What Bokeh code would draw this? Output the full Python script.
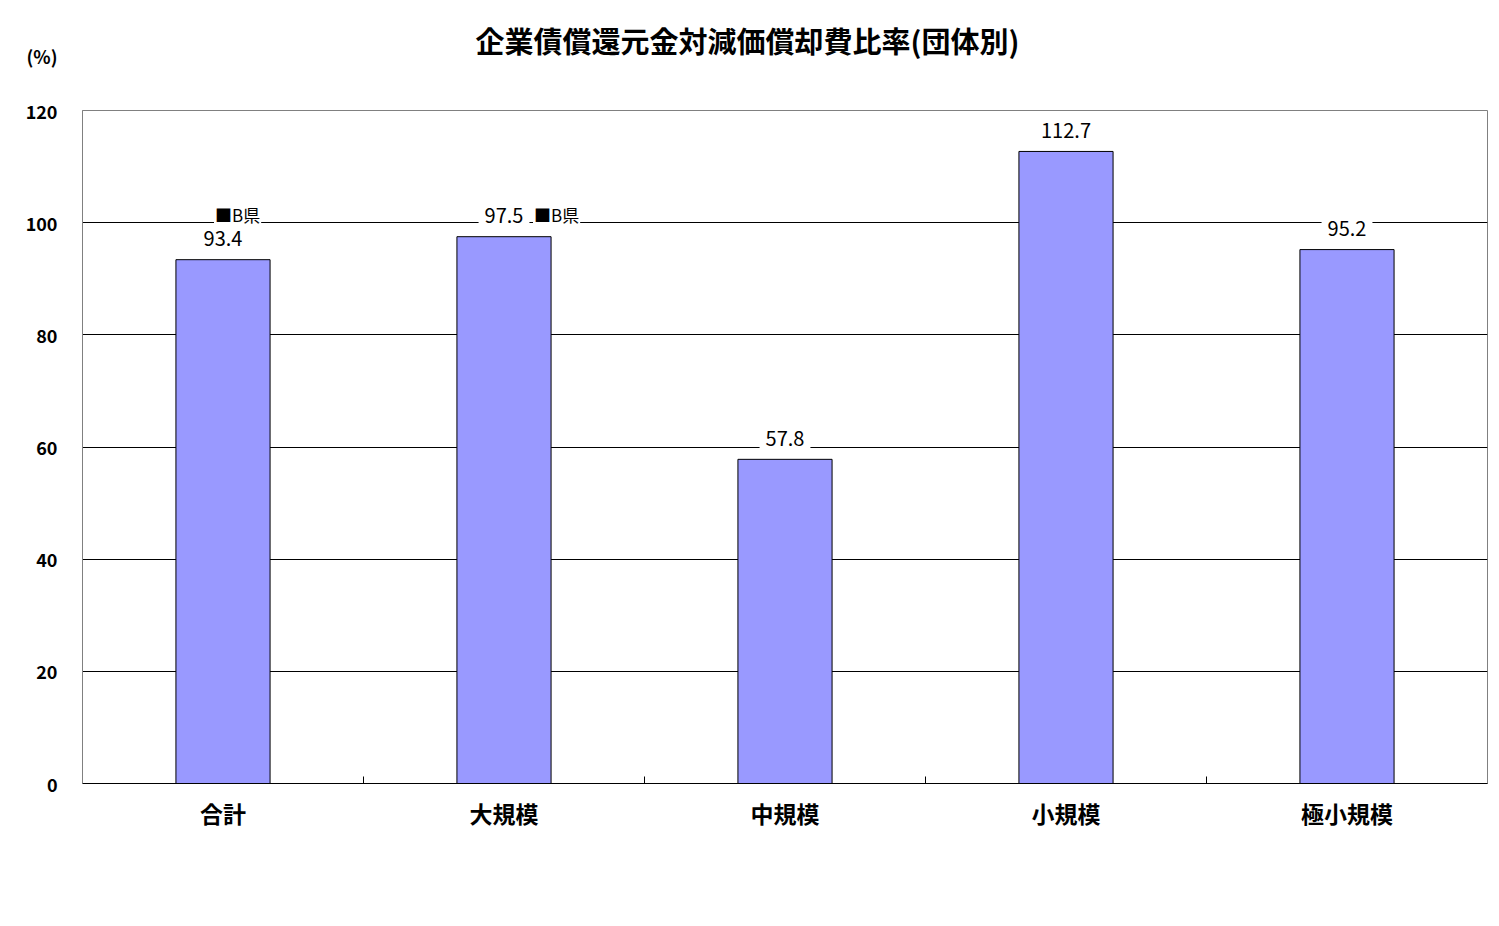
from bokeh.plotting import figure
from bokeh.models import FixedTicker, ColumnDataSource
from bokeh.core.properties import value
from bokeh.embed import file_html
from bokeh.resources import INLINE
import numpy as np

title_text = "企業債償還元金対減価償却費比率(団体別)"
unit_text = "(%)"
categories = ["合計", "大規模", "中規模", "小規模", "極小規模"]
ratios = [93.4, 97.5, 57.8, 112.7, 95.2]
value_labels = ["93.4", "97.5", "57.8", "112.7", "95.2"]
b_marker_cats = ["合計", "大規模"]
b_marker_text = "■B県"
y_ticks = [0, 20, 40, 60, 80, 100, 120]

JP = "Noto Sans CJK JP"
H = 910

n = len(categories)
xc = np.arange(n) + 0.5

p = figure(width=1490, height=H, x_range=(0, n), y_range=(0, 120),
           output_backend="svg", toolbar_location=None,
           min_border_left=82, min_border_right=3, min_border_top=110, min_border_bottom=127)
p.background_fill_color = "white"
p.border_fill_color = "white"
p.outline_line_color = "#808080"
p.outline_line_width = 1

# title (second blank line lifts it away from the frame)
p.title.text = title_text + "\n "
p.title.align = "left"
p.title.offset = 393
p.title.standoff = 16
p.title.text_font = JP
p.title.text_font_size = "29px"
p.title.text_font_style = "bold"
p.title.text_color = "black"

src = ColumnDataSource(dict(x=xc, top=ratios, lab=value_labels))
p.vbar(x="x", top="top", width=0.335, bottom=0, source=src,
       fill_color="#9999FF", line_color="black", line_width=1)

p.text(x="x", y="top", text="lab", source=src, y_offset=-21,
       text_align="center", text_baseline="middle", text_font=value(JP),
       text_font_size="20px", text_color="black",
       background_fill_color="white", padding=6)

bidx = [categories.index(c) for c in b_marker_cats]
bsrc = ColumnDataSource(dict(x=xc[bidx], y=[100] * len(bidx), t=[b_marker_text] * len(bidx),
                             xo=[-9, 29]))
p.text(x="x", y="y", text="t", source=bsrc, x_offset="xo", y_offset=-8,
       text_align="left", text_baseline="middle", text_font=value(JP),
       text_font_size="17px", text_color="black",
       background_fill_color="white", padding=1)

# x axis
p.xaxis.ticker = FixedTicker(ticks=list(xc), minor_ticks=list(np.arange(1, n)))
p.xaxis.major_label_overrides = {float(x): c for x, c in zip(xc, categories)}
p.xaxis.major_tick_line_color = None
p.xaxis.major_tick_in = 0
p.xaxis.major_tick_out = 0
p.xaxis.minor_tick_in = 7
p.xaxis.minor_tick_out = 0
p.xaxis.minor_tick_line_color = "black"
p.xaxis.axis_line_color = "black"
p.xaxis.major_label_text_font = JP
p.xaxis.major_label_text_font_size = "23px"
p.xaxis.major_label_text_font_style = "bold"
p.xaxis.major_label_text_color = "black"
p.xaxis.major_label_standoff = 12
p.xgrid.grid_line_color = None

# y axis; the unit "(%)" sits two lines above the top tick label
p.yaxis.ticker = FixedTicker(ticks=y_ticks)
overrides = {t: str(t) for t in y_ticks}
overrides[y_ticks[-1]] = unit_text + "\n \n" + str(y_ticks[-1]) + "\n \n "
p.yaxis.major_label_overrides = overrides
p.yaxis.axis_line_color = "#808080"
p.yaxis.major_tick_line_color = None
p.yaxis.major_tick_in = 0
p.yaxis.major_tick_out = 0
p.yaxis.minor_tick_line_color = None
p.yaxis.major_label_text_font = JP
p.yaxis.major_label_text_font_size = "18px"
p.yaxis.major_label_text_font_style = "bold"
p.yaxis.major_label_text_color = "black"
p.yaxis.major_label_text_line_height = 1.05
p.yaxis.major_label_standoff = 25
p.ygrid.ticker = FixedTicker(ticks=y_ticks[1:-1])
p.ygrid.grid_line_color = "black"
p.ygrid.grid_line_width = 1

open("out.html", "w").write(file_html(p, INLINE))
